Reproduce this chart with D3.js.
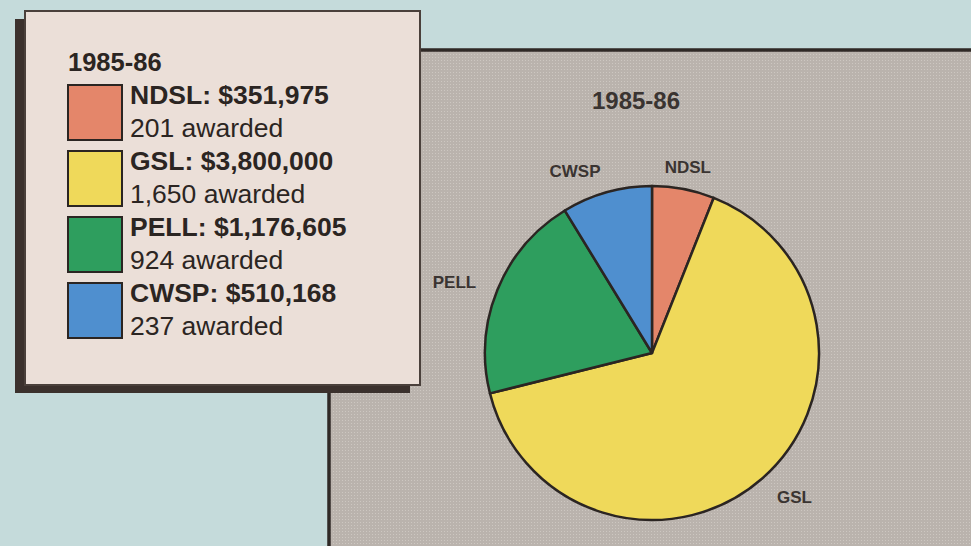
<!DOCTYPE html>
<html>
<head>
<meta charset="utf-8">
<script src="https://cdn.jsdelivr.net/npm/d3@7"></script>
<style>
  body { margin: 0; background: #c5dbdb; }
  svg { display: block; font-family: "Liberation Sans", Arial, sans-serif; }
</style>
</head>
<body>
<div id="chart"></div>
<script>
var programs = ["NDSL", "GSL", "PELL", "CWSP"];
var amounts = [351975, 3800000, 1176605, 510168];
var awarded = ["201", "1,650", "924", "237"];
var colors = ["#e4866a", "#efd95a", "#2e9e5e", "#4f8fcf"];
var yearLabel = "1985-86";

var width = 971, height = 546;
var ink = "#2b2522";

var svg = d3.select("#chart").append("svg")
  .attr("width", width)
  .attr("height", height);

// textured grey panel behind the pie
var defs = svg.append("defs");
var pat = defs.append("pattern")
  .attr("id", "dots")
  .attr("width", 3).attr("height", 3)
  .attr("patternUnits", "userSpaceOnUse");
pat.append("rect").attr("width", 3).attr("height", 3).attr("fill", "#bab3ad");
pat.append("rect").attr("width", 1).attr("height", 1).attr("fill", "#cdc7c1");

svg.append("rect")
  .attr("x", 329).attr("y", 50)
  .attr("width", width - 329 + 5).attr("height", height - 50 + 5)
  .attr("fill", "url(#dots)")
  .attr("stroke", "#2f2926")
  .attr("stroke-width", 3.5);

// pie
var cx = 652, cy = 353, radius = 167;
var pie = d3.pie().sort(null).value(function(d) { return d.amount; });
var data = programs.map(function(p, i) {
  return {name: p, amount: amounts[i], count: awarded[i], color: colors[i]};
});
var arcs = pie(data);
var arc = d3.arc().innerRadius(0).outerRadius(radius);
var labelArc = d3.arc().innerRadius(190).outerRadius(190);

var g = svg.append("g").attr("transform", "translate(" + cx + "," + cy + ")");

g.selectAll("path.slice")
  .data(arcs)
  .join("path")
    .attr("class", "slice")
    .attr("d", arc)
    .attr("fill", function(d) { return d.data.color; })
    .attr("stroke", ink)
    .attr("stroke-width", 2.5)
    .attr("stroke-linejoin", "round");

g.selectAll("text.lbl")
  .data(arcs)
  .join("text")
    .attr("class", "lbl")
    .attr("transform", function(d) { return "translate(" + labelArc.centroid(d) + ")"; })
    .attr("dy", "0.4em")
    .attr("text-anchor", function(d) {
      var mid = (d.startAngle + d.endAngle) / 2;
      var s = Math.sin(mid);
      if (Math.abs(s) < 0.21) return "middle";
      return s > 0 ? "start" : "end";
    })
    .attr("font-size", 17)
    .attr("font-weight", "bold")
    .attr("fill", "#3a3431")
    .text(function(d) { return d.data.name; });

svg.append("text")
  .attr("x", 636).attr("y", 109)
  .attr("text-anchor", "middle")
  .attr("font-size", 24)
  .attr("font-weight", "bold")
  .attr("fill", "#3a3431")
  .text(yearLabel);

// legend box with drop shadow
var box = {x: 25, y: 11, w: 395, h: 374};
svg.append("rect")
  .attr("x", box.x - 10).attr("y", box.y + 8)
  .attr("width", box.w).attr("height", box.h)
  .attr("fill", "#3b312d");
svg.append("rect")
  .attr("x", box.x).attr("y", box.y)
  .attr("width", box.w).attr("height", box.h)
  .attr("fill", "#ebdfd8")
  .attr("stroke", "#4a403b")
  .attr("stroke-width", 2);

var legend = svg.append("g").attr("class", "legend");

legend.append("text")
  .attr("x", 68).attr("y", 71)
  .attr("font-size", 25.5)
  .attr("font-weight", "bold")
  .attr("fill", ink)
  .text(yearLabel);

var rowY = d3.scaleLinear().domain([0, 1]).range([84, 150]);

legend.selectAll("g.item")
  .data(data)
  .join("g")
    .attr("class", "item")
    .attr("transform", function(d, i) { return "translate(67," + rowY(i) + ")"; })
    .each(function(d) {
      var item = d3.select(this);
      item.append("rect")
        .attr("x", 1).attr("y", 1)
        .attr("width", 54).attr("height", 55)
        .attr("fill", d.color)
        .attr("stroke", ink)
        .attr("stroke-width", 2);
      item.append("text")
        .attr("x", 63).attr("y", 20)
        .attr("font-size", 26.5)
        .attr("font-weight", "bold")
        .attr("fill", ink)
        .text(d.name + ": " + d3.format("$,")(d.amount));
      item.append("text")
        .attr("x", 63).attr("y", 53)
        .attr("font-size", 26.5)
        .attr("fill", ink)
        .text(d.count + " awarded");
    });
</script>
</body>
</html>
